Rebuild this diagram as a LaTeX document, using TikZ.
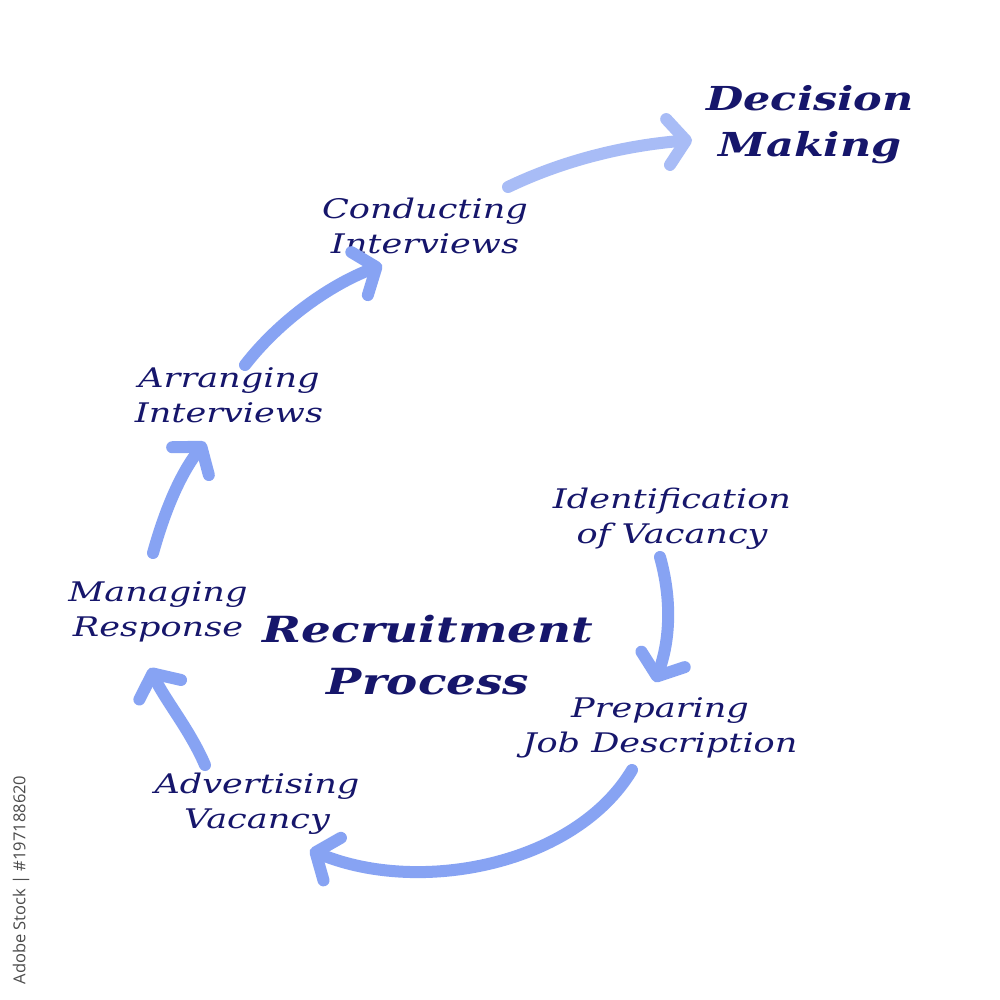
\documentclass[tikz,border=0pt]{standalone}
\usepackage{fontspec}
\usetikzlibrary{arrows.meta}
\newfontfamily\hand{DejaVu Serif}[FakeStretch=1.3]
\newfontfamily\wmfont{Open Sans}
\definecolor{navy}{HTML}{16166B}
\definecolor{arr}{HTML}{87A3F3}
\definecolor{arrlight}{HTML}{A8BCF6}
\tikzset{
  lbl/.style={text=navy, font=\hand\itshape\fontsize{27}{35}\selectfont, align=center, inner sep=0pt},
  big/.style={text=navy, font=\hand\itshape\bfseries\fontsize{36}{52}\selectfont, align=center, inner sep=0pt},
  flow/.style={draw=arr, line width=12pt, line cap=round,
    -{Straight Barb[round, length=18pt, width=46pt, line width=12pt]}},
}
\begin{document}
\begin{tikzpicture}[x=1pt,y=-1pt]
\fill[white] (0,0) rectangle (999,1000);
\useasboundingbox (0,0) rectangle (999,1000);

\node[big, font=\hand\itshape\bfseries\fontsize{33}{46}\selectfont] (dec) at (810,125) {Decision\\Making};
\node[lbl] (con) at (425,226) {Conducting\\Interviews};
\node[lbl] (arrg) at (229,395) {Arranging\\Interviews};
\node[lbl] (man) at (158,612) {Managing\\Response};
\node[big] (rec) at (428,655) {Recruitment\\Process};
\node[lbl] (ide) at (672,519) {Identification\\of Vacancy};
\node[lbl] (pre) at (660,728) {Preparing\\Job Description};
\node[lbl] (adv) at (257,804) {Advertising\\Vacancy};

\node[text=black!70, font=\wmfont\fontsize{16.5}{18}\selectfont, rotate=90, inner sep=0pt] (wm) at (21,880) {Adobe Stock | \#197188620};

\coordinate (a1) at (660,557); \coordinate (b1) at (655,682);
\coordinate (a2) at (632,770); \coordinate (b2) at (310,850);
\coordinate (a3) at (205,765); \coordinate (b3) at (150,668);
\coordinate (a4) at (153,553); \coordinate (b4) at (205,442);
\coordinate (a5) at (245,365); \coordinate (b5) at (382,265);
\coordinate (a6) at (508,187); \coordinate (b6) at (692,140);

\draw[flow] (a1) .. controls (672,600) and (670,640) .. (b1);
\draw[flow] (a2) .. controls (575,865) and (420,895) .. (b2);
\draw[flow] (a3) .. controls (190,730) and (165,700) .. (b3);
\draw[flow] (a4) .. controls (165,510) and (180,475) .. (b4);
\draw[flow] (a5) .. controls (280,320) and (330,285) .. (b5);
\draw[flow, draw=arrlight] (a6) .. controls (560,162) and (620,146) .. (b6);
\end{tikzpicture}
\end{document}
